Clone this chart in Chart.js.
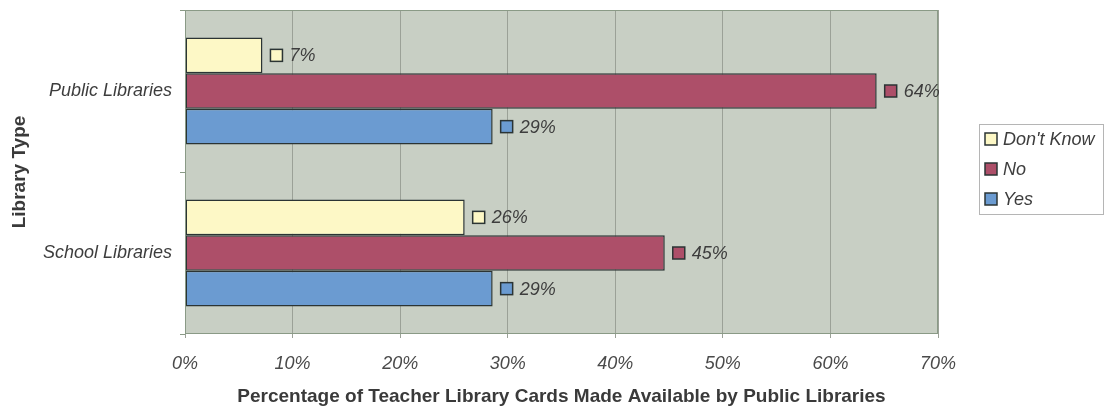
<!DOCTYPE html>
<html>
<head>
<meta charset="utf-8">
<script src="https://cdn.jsdelivr.net/npm/chart.js@4/dist/chart.umd.min.js"></script>
<style>
  html, body { margin: 0; padding: 0; background: #fff; }
  #wrap { width: 1108px; height: 406px; }
</style>
</head>
<body>
<div id="wrap"><canvas id="mybarchart" width="1108" height="406"></canvas></div>
<script>
// Start Data
const libraryTypes = ['Public Libraries', 'School Libraries'];
const seriesNames = ["Don't Know", 'No', 'Yes'];
const dontKnowValues = [7.2, 26.0];
const noValues = [64.3, 44.6];
const yesValues = [28.6, 28.6];
const valueLabels = [['7%', '26%'], ['64%', '45%'], ['29%', '29%']];
const xTicks = [0, 10, 20, 30, 40, 50, 60, 70];
// End Data

const fills = ['#fdf8c6', '#ad4f69', '#6b9bd1'];
const edge = '#2b3434';
const fontFam = '"Liberation Sans", Arial, sans-serif';

// plot area background and frame
const plotBg = {
  id: 'plotBg',
  beforeDraw(chart) {
    const a = chart.chartArea, c = chart.ctx;
    c.save();
    c.fillStyle = '#c8cfc4';
    c.fillRect(a.left, a.top, a.right - a.left, a.bottom - a.top);
    c.restore();
  },
  afterDatasetsDraw(chart) {
    const a = chart.chartArea, c = chart.ctx;
    c.save();
    c.strokeStyle = '#8a9a86';
    c.lineWidth = 1;
    c.strokeRect(a.left + 0.5, a.top + 0.5, a.right - a.left - 1, a.bottom - a.top - 1);
    c.restore();
  }
};

// little coloured square
function swatch(c, x, y, i) {
  c.fillStyle = fills[i];
  c.fillRect(x, y - 6, 12, 12);
  c.strokeStyle = edge;
  c.lineWidth = 1.5;
  c.strokeRect(x, y - 6, 12, 12);
}

// value labels next to bars
const valueTags = {
  id: 'valueTags',
  afterDatasetsDraw(chart) {
    const c = chart.ctx;
    c.save();
    c.font = 'italic 18px ' + fontFam;
    c.textBaseline = 'middle';
    chart.data.datasets.forEach((ds, i) => {
      chart.getDatasetMeta(i).data.forEach((bar, j) => {
        const x = bar.x + 8, y = bar.y;
        swatch(c, x, y, i);
        c.fillStyle = '#3d3d3d';
        c.fillText(valueLabels[i][j], x + 19, y + 1);
      });
    });
    c.restore();
  }
};

// legend box on the right
const sideLegend = {
  id: 'sideLegend',
  afterDraw(chart) {
    const c = chart.ctx;
    const bx = 979, by = 124, bw = 124, bh = 90;
    c.save();
    c.fillStyle = '#fff';
    c.fillRect(bx, by, bw, bh);
    c.strokeStyle = '#b5b5b5';
    c.lineWidth = 1;
    c.strokeRect(bx + 0.5, by + 0.5, bw, bh);
    c.font = 'italic 18px ' + fontFam;
    c.textBaseline = 'middle';
    chart.data.datasets.forEach((ds, i) => {
      const y = by + 15 + i * 30;
      swatch(c, bx + 6, y, i);
      c.fillStyle = '#3d3d3d';
      c.fillText(ds.label, bx + 24, y + 1);
    });
    c.restore();
  }
};

const ctx = document.getElementById('mybarchart');
new Chart(ctx, {
  type: 'bar',
  data: {
    labels: libraryTypes,
    datasets: [dontKnowValues, noValues, yesValues].map((vals, i) => ({
      label: seriesNames[i],
      data: vals,
      backgroundColor: fills[i],
      borderColor: edge,
      borderWidth: 1.5,
      borderSkipped: false,
      barPercentage: 1,
      categoryPercentage: 0.66
    }))
  },
  options: {
    indexAxis: 'y',
    responsive: false,
    animation: false,
    layout: { padding: { top: 10, right: 170, left: 0, bottom: 0 } },
    plugins: { legend: { display: false }, tooltip: { enabled: false } },
    scales: {
      x: {
        min: 0, max: 70,
        afterBuildTicks(scale) { scale.ticks = xTicks.map(v => ({ value: v })); },
        afterFit(scale) { scale.height = 72; },
        grid: { color: '#9ba197', lineWidth: 1, tickLength: 4, drawTicks: true },
        border: { display: false },
        ticks: {
          padding: 15,
          color: '#4a4a4a',
          font: { family: fontFam, size: 18, style: 'italic' },
          callback: v => v + '%'
        },
        title: {
          display: true,
          text: 'Percentage of Teacher Library Cards Made Available by Public Libraries',
          color: '#3a3a3a',
          font: { family: fontFam, size: 19, weight: 'bold', lineHeight: 1 },
          padding: { top: 4, bottom: 0 }
        }
      },
      y: {
        afterFit(scale) {
          scale.width = 185;
          scale.paddingTop = 0;
          scale.paddingBottom = 0;
        },
        grid: { drawOnChartArea: false, drawTicks: true, tickLength: 5, color: '#8a9a86', offset: true },
        border: { display: false },
        ticks: {
          padding: 8,
          color: '#3d3d3d',
          font: { family: fontFam, size: 18, style: 'italic' }
        },
        title: {
          display: true,
          text: 'Library Type',
          color: '#3a3a3a',
          font: { family: fontFam, size: 19, weight: 'bold', lineHeight: 1 },
          padding: { top: 10, bottom: 4 }
        }
      }
    }
  },
  plugins: [plotBg, valueTags, sideLegend]
});
</script>
</body>
</html>
